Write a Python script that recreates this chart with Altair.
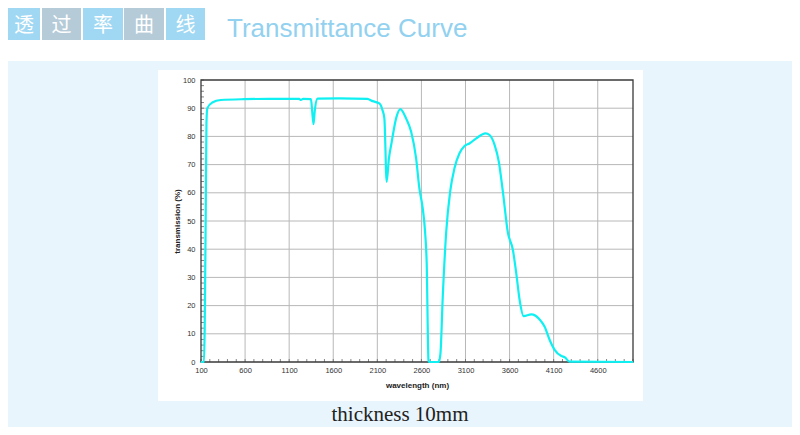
import altair as alt
import pandas as pd

# ---- data ----
wavelength = [100, 134, 153, 162, 172, 228, 324, 589, 873, 1214, 1233, 1259, 1347, 1361, 1376,
              1390, 1422, 1668, 1986, 2047, 2123, 2157, 2180, 2206, 2231, 2263, 2313, 2361, 2426,
              2483, 2540, 2577, 2615, 2642, 2660, 2680, 2685, 2797, 2816, 2842, 2881, 2926, 2975,
              3032, 3089, 3145, 3222, 3327, 3373, 3430, 3478, 3524, 3580, 3638, 3676, 3714, 3759,
              3847, 3941, 3998, 4055, 4111, 4188, 4225, 4282, 5000]
transmission = [0, 0, 50, 85, 90, 92, 92.9, 93.2, 93.3, 93.3, 92.9, 93.3, 93.2, 89, 84.3,
                89, 93.4, 93.5, 93.3, 92.5, 91.7, 89.5, 86.4, 63.9, 72, 78, 86.4, 89.7, 86.4,
                81.7, 72.2, 61.6, 54.5, 46, 35, 0.7, 0, 0, 3, 23, 46, 60.4, 68.7,
                74, 76.6, 77.5, 79.3, 81.1, 80.5, 77, 71, 60.4, 46, 39.7, 31.4, 22, 16.3,
                16.9, 15.1, 12.5, 7.8, 4.3, 2.1, 1.7, 0.1, 0]
x_tick_labels = [100, 600, 1100, 1600, 2100, 2600, 3100, 3600, 4100, 4600]
y_tick_labels = [0, 10, 20, 30, 40, 50, 60, 70, 80, 90, 100]
x_minor = list(range(100, 5001, 100))
y_minor = list(range(0, 101, 2))
header_chars = ["透", "过", "率", "曲", "线"]
title_text = "Transmittance Curve"
caption_text = "thickness 10mm"
x_title = "wavelength (nm)"
y_title = "transmission (%)"

W, H = 432, 282
xs = alt.Scale(domain=[100, 5000], nice=False, zero=False)
ys = alt.Scale(domain=[0, 100], nice=False)
one = pd.DataFrame({"k": [0]})
FONT = "Liberation Sans"

x_axis = alt.Axis(values=x_tick_labels, format="d", grid=False, domain=False, ticks=False,
                  labelFlush=False, labelFontSize=7.5, labelFont=FONT,
                  labelColor="#333333", labelPadding=4, title=x_title,
                  titleFont=FONT, titleFontSize=8, titleFontWeight="bold",
                  titleColor="#222222", titleX=W / 2, titleY=23,
                  titleBaseline="middle", zindex=1)
y_axis = alt.Axis(values=y_tick_labels, format="d", grid=False, domain=False, ticks=False,
                  labelFlush=False, labelFontSize=7.5, labelFont=FONT,
                  labelColor="#333333", labelPadding=6, title=y_title,
                  titleFont=FONT, titleFontSize=8, titleFontWeight="bold",
                  titleColor="#222222", titleX=-24, titleY=H / 2,
                  titleBaseline="middle", titleAngle=-90, zindex=1)


def rect(x1, x2, y1, y2, color):
    return alt.Chart(one).mark_rect(color=color).encode(
        x=alt.value(x1), x2=alt.value(x2), y=alt.value(y1), y2=alt.value(y2))


def text(s, x, y, **kw):
    return alt.Chart(one).mark_text(**kw).encode(
        x=alt.value(x), y=alt.value(y), text=alt.value(s))


layers = []
layers.append(rect(-193, 591, -19, 347, "#e8f5fd"))   # light blue page background
layers.append(rect(-43, 442, -10, 321, "#ffffff"))    # white panel

box_x = [(-193, -161), (-159, -120), (-118, -78), (-77, -37), (-35, 4)]
box_col = ["#a0d8f3", "#b6cbd8", "#a0d8f3", "#b6cbd8", "#a0d8f3"]
for (a, b), c, ch in zip(box_x, box_col, header_chars):
    layers.append(rect(a, b, -72, -40, c))
    layers.append(text(ch, (a + b) / 2, -54, align="center", baseline="middle",
                       fontSize=20, font="Noto Sans CJK SC", color="#ffffff"))

layers.append(text(title_text, 26, -43, align="left", baseline="alphabetic",
                   fontSize=26, font=FONT, color="#92d1ef"))
layers.append(text(caption_text, 199, 341, align="center", baseline="alphabetic",
                   fontSize=21, font="Liberation Serif", color="#222222"))

gx = pd.DataFrame({"wavelength": x_tick_labels[1:]})
gy = pd.DataFrame({"transmission": y_tick_labels[1:-1]})
layers.append(alt.Chart(gx).mark_rule(color="#b8b8b8", strokeWidth=1).encode(
    x=alt.X("wavelength:Q", scale=xs, axis=x_axis)))
layers.append(alt.Chart(gy).mark_rule(color="#b8b8b8", strokeWidth=1).encode(
    y=alt.Y("transmission:Q", scale=ys, axis=y_axis)))

mx = pd.DataFrame({"wavelength": x_minor})
my = pd.DataFrame({"transmission": y_minor})
layers.append(alt.Chart(mx).mark_rule(color="#666666", strokeWidth=0.8).encode(
    x=alt.X("wavelength:Q", scale=xs, axis=x_axis), y=alt.value(H - 3), y2=alt.value(H)))
layers.append(alt.Chart(my).mark_rule(color="#666666", strokeWidth=0.8).encode(
    y=alt.Y("transmission:Q", scale=ys, axis=y_axis), x=alt.value(0), x2=alt.value(3)))

layers.append(alt.Chart(one).mark_rect(fillOpacity=0, stroke="#3a3a3a", strokeWidth=1.3).encode(
    x=alt.value(0), x2=alt.value(W), y=alt.value(0), y2=alt.value(H)))

df = pd.DataFrame({"wavelength": wavelength, "transmission": transmission})
line = alt.Chart(df).mark_line(color="#0ff0f2", strokeWidth=2.2, interpolate="monotone").encode(
    x=alt.X("wavelength:Q", scale=xs, axis=x_axis),
    y=alt.Y("transmission:Q", scale=ys, axis=y_axis),
)
layers.append(line)

chart = alt.layer(*layers).properties(
    width=W, height=H,
    autosize=alt.AutoSizeParams(type="none"),
    padding={"left": 193, "top": 72, "right": 159, "bottom": 65},
    background="#ffffff",
).configure_view(stroke=None)

chart.save("out.html", embed_options={"renderer": "svg", "actions": False})
